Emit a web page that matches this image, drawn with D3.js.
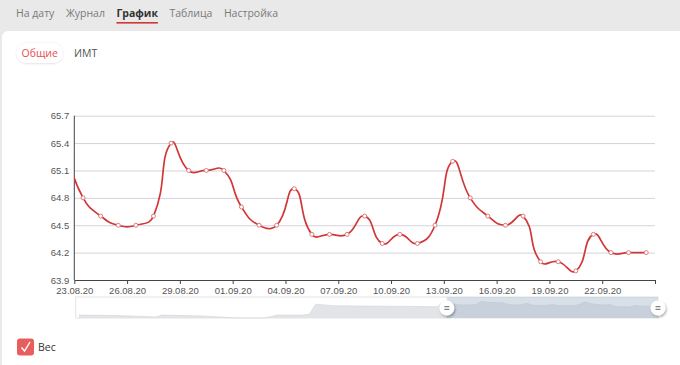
<!DOCTYPE html>
<html>
<head>
<meta charset="utf-8">
<script src="https://cdn.jsdelivr.net/npm/d3@7"></script>
<style>
  body { margin: 0; background: #e9e9e9; font-family: "Open Sans", "Noto Sans", sans-serif; }
  svg { display: block; }
</style>
</head>
<body>
<div id="container"></div>
<script>
/* DATA */
const tabs = ["На дату", "Журнал", "График", "Таблица", "Настройка"];
const activeTab = "График";
const subTabs = ["Общие", "ИМТ"];
const seriesName = "Вес";

// one weighing per day (the first one is before the visible window)
const dates = ["22.08.20", "23.08.20", "24.08.20", "25.08.20", "26.08.20", "27.08.20", "28.08.20",
  "29.08.20", "30.08.20", "31.08.20", "01.09.20", "02.09.20", "03.09.20", "04.09.20", "05.09.20",
  "06.09.20", "07.09.20", "08.09.20", "09.09.20", "10.09.20", "11.09.20", "12.09.20", "13.09.20",
  "14.09.20", "15.09.20", "16.09.20", "17.09.20", "18.09.20", "19.09.20", "20.09.20", "21.09.20",
  "22.09.20", "23.09.20", "24.09.20"];
const weights = [65.3, 64.8, 64.6, 64.5, 64.5, 64.6, 65.4, 65.1, 65.1, 65.1, 64.7, 64.5, 64.5, 64.9,
  64.4, 64.4, 64.4, 64.6, 64.3, 64.4, 64.3, 64.5, 65.2, 64.8, 64.6, 64.5, 64.6, 64.1, 64.1, 64.0,
  64.4, 64.2, 64.2, 64.2];

const yTicks = [63.9, 64.2, 64.5, 64.8, 65.1, 65.4, 65.7];
const xTickLabels = ["23.08.20", "26.08.20", "29.08.20", "01.09.20", "04.09.20", "07.09.20",
  "10.09.20", "13.09.20", "16.09.20", "19.09.20", "22.09.20", "25.09.20"];

// older history, only seen in the zoom slider shadow
const historyDates = ["26.06.20", "02.07.20", "08.07.20", "09.07.20", "15.07.20", "21.07.20",
  "25.07.20", "27.07.20", "31.07.20", "01.08.20", "02.08.20", "05.08.20", "14.08.20", "21.08.20"];
const historyWeights = [62.1, 62.0, 61.65, 62.1, 61.9, 61.4, 61.4, 62.1, 62.1, 62.3, 64.7, 64.3, 64.2, 64.1];

/* CONSTANTS */
const width = 680, height = 365;
const plot = {left: 74.3, right: 655, top: 115.7, bottom: 280};
const slider = {left: 75.7, right: 658, top: 297, bottom: 318};
const red = "#d23636";
const uiSize = 10.5;

const parseDate = d3.timeParse("%d.%m.%y");
const atNoon = s => d3.timeHour.offset(parseDate(s), 12);

const data = dates.map((d, i) => ({date: atNoon(d), value: weights[i]}));
const history = historyDates.map((d, i) => ({date: atNoon(d), value: historyWeights[i]}));
const shadowData = history.concat(data);
const xTicks = xTickLabels.map(parseDate);

// smoothing like echarts line smooth: 0.5
function smoothCurve(context) {
  let pts;
  return {
    areaStart() {}, areaEnd() {},
    lineStart() { pts = []; },
    point(x, y) { pts.push([+x, +y]); },
    lineEnd() {
      const n = pts.length;
      if (!n) return;
      const cps = pts.map((p, i) => {
        const prev = pts[Math.max(i - 1, 0)], next = pts[Math.min(i + 1, n - 1)];
        const vx = (next[0] - prev[0]) * 0.5, vy = (next[1] - prev[1]) * 0.5;
        let d0 = Math.hypot(p[0] - prev[0], p[1] - prev[1]);
        let d1 = Math.hypot(next[0] - p[0], next[1] - p[1]);
        const s = d0 + d1 || 1;
        d0 /= s; d1 /= s;
        return [[p[0] - vx * d0, p[1] - vy * d0], [p[0] + vx * d1, p[1] + vy * d1]];
      });
      context.moveTo(pts[0][0], pts[0][1]);
      for (let i = 1; i < n; i++) {
        context.bezierCurveTo(cps[i - 1][1][0], cps[i - 1][1][1], cps[i][0][0], cps[i][0][1], pts[i][0], pts[i][1]);
      }
    }
  };
}

/* SVG */
const svg = d3.select("#container").append("svg")
  .attr("width", width)
  .attr("height", height);

const defs = svg.append("defs");
defs.append("clipPath").attr("id", "plotClip")
  .append("rect")
  .attr("x", plot.left).attr("y", plot.top - 10)
  .attr("width", plot.right - plot.left).attr("height", plot.bottom - plot.top + 20);
const shadow = defs.append("filter").attr("id", "shadow")
  .attr("x", "-50%").attr("y", "-50%").attr("width", "200%").attr("height", "200%");
shadow.append("feDropShadow").attr("dx", 1).attr("dy", 1.5).attr("stdDeviation", 1.2)
  .attr("flood-color", "#000").attr("flood-opacity", 0.35);
const soft = defs.append("filter").attr("id", "soft")
  .attr("x", "-30%").attr("y", "-50%").attr("width", "160%").attr("height", "200%");
soft.append("feDropShadow").attr("dx", 0).attr("dy", 0.5).attr("stdDeviation", 1)
  .attr("flood-color", "#000").attr("flood-opacity", 0.15);

// top nav
const nav = svg.append("g");
let tx = 16;
tabs.forEach(t => {
  const txt = nav.append("text")
    .attr("x", tx).attr("y", 16.5)
    .attr("font-size", uiSize)
    .attr("font-weight", t === activeTab ? 700 : 400)
    .attr("fill", t === activeTab ? "#333" : "#7a7a7a")
    .text(t);
  const w = txt.node().getComputedTextLength();
  if (t === activeTab) {
    nav.append("rect").attr("x", tx).attr("y", 22).attr("width", w).attr("height", 1.6).attr("fill", red);
  }
  tx += w + 11.5;
});

// white card
svg.append("rect")
  .attr("x", 2).attr("y", 31)
  .attr("width", width + 10).attr("height", height)
  .attr("rx", 6)
  .attr("fill", "#fff");

// sub tabs
const pill = svg.append("g");
const pillText = pill.append("text")
  .attr("x", 21.5).attr("y", 57)
  .attr("font-size", uiSize)
  .attr("fill", "#e8504f")
  .text(subTabs[0]);
const pw = pillText.node().getComputedTextLength();
pill.insert("rect", "text")
  .attr("x", 16.5).attr("y", 43).attr("width", pw + 10).attr("height", 20).attr("rx", 10)
  .attr("fill", "#fff").attr("filter", "url(#soft)");
svg.append("text")
  .attr("x", 74).attr("y", 57)
  .attr("font-size", uiSize)
  .attr("fill", "#555")
  .text(subTabs[1]);

/* SCALES */
const xScale = d3.scaleTime()
  .domain([xTicks[0], xTicks[xTicks.length - 1]])
  .range([plot.left, plot.right]);
const yScale = d3.scaleLinear()
  .domain([yTicks[0], yTicks[yTicks.length - 1]])
  .range([plot.bottom, plot.top]);

/* AXES */
const chartFont = "'Liberation Sans', Arial, sans-serif";

svg.append("g")
  .attr("transform", `translate(${plot.left},0)`)
  .call(d3.axisLeft(yScale).tickValues(yTicks).tickSize(-(plot.right - plot.left)).tickPadding(5).tickFormat(d3.format(".1f")))
  .call(g => g.select(".domain").remove())
  .call(g => g.selectAll(".tick line").attr("stroke", "#d4d3dc"))
  .call(g => g.selectAll(".tick text").attr("fill", "#555").attr("font-size", 9.5).attr("font-family", chartFont));

svg.append("line")
  .attr("x1", plot.left).attr("x2", plot.left)
  .attr("y1", plot.top).attr("y2", plot.bottom)
  .attr("stroke", "#444");

svg.append("g")
  .attr("transform", `translate(0,${plot.bottom})`)
  .call(d3.axisBottom(xScale).tickValues(xTicks).tickSize(4).tickSizeOuter(0).tickPadding(3)
    .tickFormat((d, i) => i === xTicks.length - 1 ? "" : d3.timeFormat("%d.%m.%y")(d)))
  .call(g => g.select(".domain").attr("stroke", "#444"))
  .call(g => g.selectAll(".tick line").attr("stroke", "#444"))
  .call(g => g.selectAll(".tick text").attr("fill", "#555").attr("font-size", 9.5).attr("font-family", chartFont));

/* LINE */
const line = d3.line()
  .x(d => xScale(d.date))
  .y(d => yScale(d.value))
  .curve(smoothCurve);

const plotG = svg.append("g").attr("clip-path", "url(#plotClip)");
plotG.append("path")
  .datum(data)
  .attr("d", line)
  .attr("fill", "none")
  .attr("stroke", red)
  .attr("stroke-width", 1.7);

plotG.selectAll("circle.pt")
  .data(data)
  .join("circle")
  .attr("class", "pt")
  .attr("cx", d => xScale(d.date))
  .attr("cy", d => yScale(d.value))
  .attr("r", 2)
  .attr("fill", "#fff")
  .attr("stroke", "#e07a7a")
  .attr("stroke-width", 1);

/* ZOOM SLIDER */
const sx = d3.scaleTime()
  .domain([parseDate(historyDates[0]), xTicks[xTicks.length - 1]])
  .range([slider.left, slider.right]);
const sy = d3.scaleLinear()
  .domain([61.4, 66.4])
  .range([slider.bottom, slider.top]);

const sg = svg.append("g");
sg.append("rect")
  .attr("x", slider.left).attr("y", slider.top)
  .attr("width", slider.right - slider.left).attr("height", slider.bottom - slider.top)
  .attr("fill", "#fff").attr("stroke", "#e4e4e4");

sg.append("path")
  .datum(shadowData)
  .attr("d", d3.area().x(d => sx(d.date)).y0(slider.bottom).y1(d => sy(d.value)))
  .attr("fill", "#e3e4e8");
sg.append("path")
  .datum(shadowData)
  .attr("d", d3.line().x(d => sx(d.date)).y(d => sy(d.value)))
  .attr("fill", "none")
  .attr("stroke", "#d2d4da")
  .attr("stroke-width", 0.6);

const winStart = sx(xScale.domain()[0]), winEnd = sx(xScale.domain()[1]);
sg.append("rect")
  .attr("x", winStart).attr("y", slider.top)
  .attr("width", winEnd - winStart).attr("height", slider.bottom - slider.top)
  .attr("fill", "rgba(167,183,204,0.45)");

const handleY = (slider.top + slider.bottom) / 2 + 0.5;
sg.selectAll("g.handle")
  .data([winStart, winEnd])
  .join("g")
  .attr("class", "handle")
  .attr("transform", d => `translate(${d},${handleY})`)
  .each(function() {
    const h = d3.select(this);
    h.append("circle").attr("r", 7.5).attr("fill", "#fff").attr("filter", "url(#shadow)");
    h.append("line").attr("x1", -2.5).attr("x2", 2.5).attr("y1", -1.3).attr("y2", -1.3).attr("stroke", "#666");
    h.append("line").attr("x1", -2.5).attr("x2", 2.5).attr("y1", 1.3).attr("y2", 1.3).attr("stroke", "#666");
  });

/* LEGEND CHECKBOX */
const lg = svg.append("g");
lg.append("rect")
  .attr("x", 17).attr("y", 338.5).attr("width", 17).attr("height", 17).attr("rx", 3)
  .attr("fill", "#e85e5e");
lg.append("path")
  .attr("d", "M21.5,347.5 L24.5,351 L30,342")
  .attr("fill", "none").attr("stroke", "#fff").attr("stroke-width", 1.4);
lg.append("text")
  .attr("x", 38).attr("y", 351)
  .attr("font-size", uiSize)
  .attr("fill", "#333")
  .text(seriesName);
</script>
</body>
</html>
